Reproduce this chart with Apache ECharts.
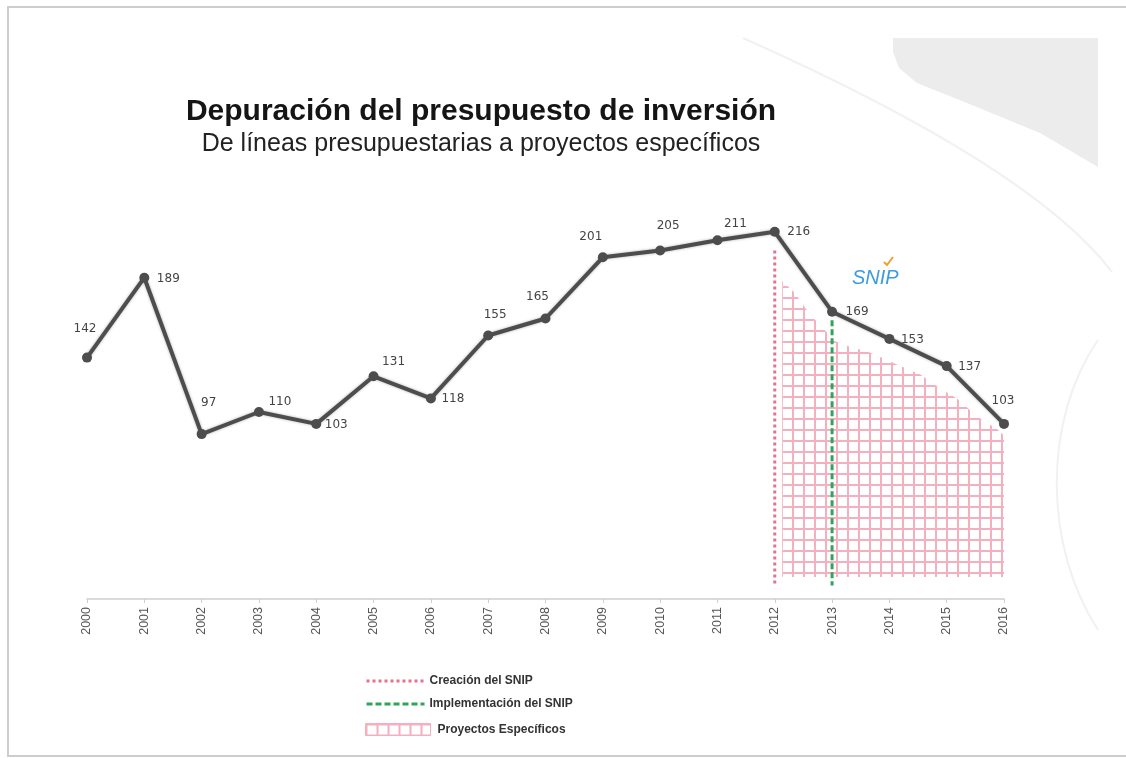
<!DOCTYPE html>
<html>
<head>
    <meta charset="utf-8">
    <title>Depuración del presupuesto de inversión</title>
    <script src="https://cdn.jsdelivr.net/npm/echarts@6/dist/echarts.min.js"></script>
    <style>
        html, body { margin: 0; padding: 0; background: #fff; }
    </style>
</head>
<body>
    <div id="chartmain" style="width:1126px; height:758px;"></div>
    <script type="text/javascript">
        // datos
        var years = [2000, 2001, 2002, 2003, 2004, 2005, 2006, 2007, 2008,
            2009, 2010, 2011, 2012, 2013, 2014, 2015, 2016];
        var budgetLines = [142, 189, 97, 110, 103, 131, 118, 155, 165,
            201, 205, 211, 216, 169, 153, 137, 103];

        // zona "Proyectos Específicos" (borde superior)
        var projYears = [2012.13, 2012.35, 2012.62, 2012.83, 2013.02, 2013.26, 2013.66,
            2014.13, 2014.54, 2014.88, 2015.18, 2015.41, 2015.63, 2015.88, 2016.0];
        var projTop = [187, 180, 167, 160, 152, 149, 145, 138, 132, 124, 118, 111, 105, 100, 96];
        var projBase = 13;

        // lineas verticales del SNIP
        var creationLine = [[2012, 205], [2012, 8]];
        var implementLine = [[2013, 164], [2013, 8]];

        // donde va cada etiqueta respecto a su punto
        var labelOffsets = [[-2, -29], [24, 1], [7, -31], [21, -10], [20, 1], [20, -14], [22, 0],
            [7, -21], [-8, -22], [-12, -20], [8, -25], [18, -16], [24, 0], [25, 0], [23, 1], [23, 1], [-1, -23]];

        // patron cuadriculado rosa
        function makeGrid() {
            var c = document.createElement('canvas');
            c.width = 11;
            c.height = 11;
            var ctx = c.getContext('2d');
            ctx.fillStyle = '#ffffff';
            ctx.fillRect(0, 0, 11, 11);
            ctx.fillStyle = '#f4b0be';
            ctx.fillRect(0, 0, 2, 11);
            ctx.fillRect(0, 0, 11, 2);
            return c;
        }
        var gridPattern = { image: makeGrid(), repeat: 'repeat' };

        var mainData = years.map(function (y, i) {
            return {
                value: [y, budgetLines[i]],
                label: { offset: labelOffsets[i] }
            };
        });

        var legendText = { fontSize: 12, fontWeight: 'bold', color: '#333', fontFamily: 'Liberation Sans', padding: [0, 0, 0, 0] };
        var noDot = { color: 'rgba(0,0,0,0)', borderWidth: 0 };

        var option = {
            animation: false,
            backgroundColor: '#ffffff',
            title: {
                text: 'Depuración del presupuesto de inversión',
                subtext: 'De líneas presupuestarias a proyectos específicos',
                left: 476,
                top: 92,
                textAlign: 'center',
                itemGap: 5,
                textStyle: { fontSize: 30, fontWeight: 'bold', color: '#151515', fontFamily: 'Liberation Sans' },
                subtextStyle: { fontSize: 25, color: '#222', fontFamily: 'Liberation Sans' }
            },
            legend: [
                {
                    left: 360, top: 670, itemWidth: 58, itemHeight: 10, itemStyle: noDot,
                    lineStyle: { width: 3 },
                    data: ['Creación del SNIP'], textStyle: legendText
                },
                {
                    left: 360, top: 693, itemWidth: 58, itemHeight: 10, itemStyle: noDot,
                    lineStyle: { width: 3 },
                    data: ['Implementación del SNIP'], textStyle: legendText
                },
                {
                    left: 360, top: 718, itemWidth: 65, itemHeight: 12,
                    data: [{
                        name: 'Proyectos Específicos', icon: 'rect',
                        itemStyle: { color: gridPattern, borderColor: '#f4b0be', borderWidth: 1 }
                    }],
                    textStyle: Object.assign({}, legendText, { padding: [0, 0, 0, 2] })
                }
            ],
            grid: { left: 87, right: 122, top: 174, bottom: 159 },
            xAxis: {
                type: 'value',
                min: 2000,
                max: 2016,
                interval: 1,
                splitLine: { show: false },
                axisLine: { show: true, lineStyle: { color: '#cfcfcf', width: 1.5 } },
                axisTick: { show: true, length: 4, lineStyle: { color: '#cfcfcf' } },
                axisLabel: {
                    rotate: 90, margin: 8, fontSize: 12.5, color: '#555', fontFamily: 'Liberation Sans',
                    formatter: function (v) { return String(v); }
                }
            },
            yAxis: { type: 'value', min: 0, max: 250, show: false },
            graphic: [
                {
                    type: 'polygon', z: -10, silent: true,
                    shape: { points: [[893, 38], [1098, 38], [1098, 167], [1040, 133], [967, 103], [917, 83], [899, 68], [893, 52]] },
                    style: { fill: '#ececec' }
                },
                {
                    type: 'bezierCurve', z: -10, silent: true,
                    shape: { x1: 743, y1: 38, cpx1: 900, cpy1: 108, cpx2: 1050, cpy2: 190, x2: 1112, y2: 272 },
                    style: { fill: null, stroke: '#f1f1f1', lineWidth: 2 }
                },
                {
                    type: 'bezierCurve', z: -10, silent: true,
                    shape: { x1: 1098, y1: 340, cpx1: 1043, cpy1: 420, cpx2: 1043, cpy2: 545, x2: 1098, y2: 630 },
                    style: { fill: null, stroke: '#f1f1f1', lineWidth: 2 }
                },
                {
                    type: 'rect', z: -10, silent: true,
                    shape: { x: 8, y: 7, width: 1130, height: 749 },
                    style: { fill: null, stroke: '#cdcdcd', lineWidth: 2 }
                },
                {
                    type: 'text', left: 852, top: 268, silent: true,
                    style: { text: 'SNIP', fill: '#3d9be0', font: 'italic 20px "Liberation Sans"' }
                },
                {
                    type: 'polyline', silent: true,
                    shape: { points: [[884, 262], [887, 265], [893, 257]] },
                    style: { stroke: '#f0a030', lineWidth: 2, fill: null }
                }
            ],
            series: [
                {
                    name: 'Proyectos Específicos',
                    type: 'line',
                    data: projYears.map(function (x, i) { return [x, projTop[i]]; }),
                    symbol: 'none',
                    itemStyle: { color: '#f4b0be' },
                    lineStyle: { width: 0 },
                    areaStyle: { color: gridPattern, origin: projBase, opacity: 1 },
                    z: 1
                },
                {
                    name: 'Creación del SNIP',
                    type: 'line',
                    data: creationLine,
                    symbol: 'none',
                    itemStyle: { color: '#e5738f' },
                    lineStyle: { type: 'dotted', width: 3, color: '#e5738f' },
                    z: 2
                },
                {
                    name: 'Implementación del SNIP',
                    type: 'line',
                    data: implementLine,
                    symbol: 'none',
                    itemStyle: { color: '#2ea55a' },
                    lineStyle: { type: [6, 3], width: 3, color: '#2ea55a' },
                    z: 2
                },
                {
                    name: 'Presupuesto',
                    type: 'line',
                    data: mainData,
                    symbol: 'circle',
                    symbolSize: 10,
                    itemStyle: { color: '#4d4d4d' },
                    lineStyle: { width: 4, color: '#4d4d4d', shadowBlur: 3, shadowColor: 'rgba(0,0,0,0.3)' },
                    label: {
                        show: true,
                        position: 'inside',
                        fontSize: 12,
                        color: '#444',
                        fontFamily: 'DejaVu Sans'
                    },
                    z: 5
                }
            ]
        };

        var myChart = echarts.init(document.getElementById('chartmain'));
        myChart.setOption(option);
    </script>
</body>
</html>
